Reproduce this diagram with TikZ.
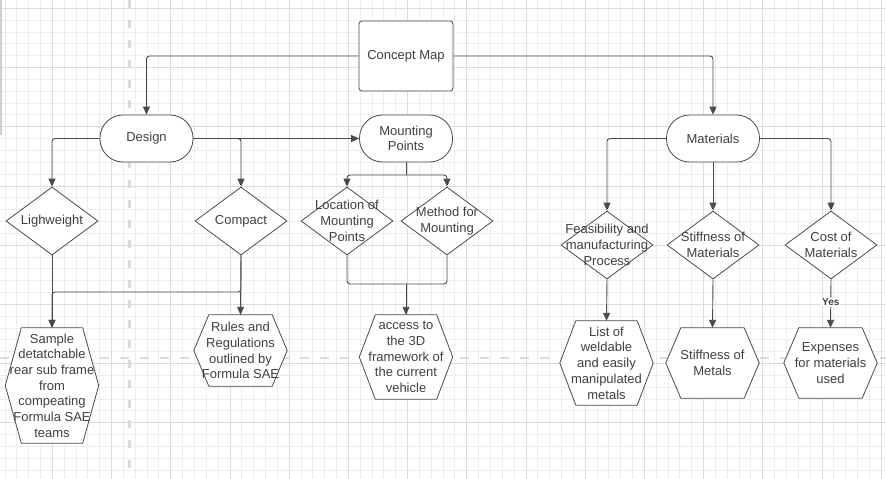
\documentclass[tikz,border=0pt]{standalone}
\usepackage{fontspec}
\setmainfont{Liberation Sans}
\usetikzlibrary{arrows.meta,shapes.geometric,calc}

\definecolor{ink}{HTML}{3B4048}
\definecolor{edge}{HTML}{464B53}
\definecolor{gridminor}{HTML}{EDEDED}
\definecolor{gridmajor}{HTML}{DCDCDC}
\definecolor{guide}{HTML}{DADADA}
\definecolor{sidebar}{HTML}{CDCED6}

\pgfdeclarelayer{bg}
\pgfdeclarelayer{mid}
\pgfsetlayers{bg,mid,main}

% hexagon outline around a fixed-size rectangular node (#1 = node, #2 = inset)
\newcommand\hexframe[2]{%
  \begin{pgfonlayer}{mid}
    \path[hexline] (#1.west) -- ([xshift=#2pt]#1.north west) -- ([xshift=-#2pt]#1.north east)
      -- (#1.east) -- ([xshift=-#2pt]#1.south east) -- ([xshift=#2pt]#1.south west) -- cycle;
  \end{pgfonlayer}}

\begin{document}
\begin{tikzpicture}[x=1pt,y=-1pt,
  every node/.style={font=\fontsize{13}{15.7}\selectfont, text=ink},
  box/.style={draw=edge, line width=0.8pt, fill=white, rounded corners=3pt,
    minimum width=94pt, minimum height=70pt, inner sep=0pt, align=center},
  pill/.style={draw=edge, line width=0.8pt, fill=white, rounded corners=23pt,
    minimum width=93pt, minimum height=47pt, inner sep=0pt, align=center},
  decision/.style={diamond, draw=edge, line width=0.8pt, fill=white,
    minimum width=92pt, minimum height=68pt, inner sep=0pt},
  dtext/.style={align=center, inner sep=0pt},
  hexa/.style={minimum width=93pt, inner sep=0pt, align=center},
  hexline/.style={draw=edge, line width=0.8pt, fill=white, line join=round},
  conn/.style={draw=edge, line width=0.9pt, rounded corners=3pt,
    -{Triangle[length=8pt,width=7pt]}},
  link/.style={draw=edge, line width=0.9pt, rounded corners=3pt},
  yes/.style={fill=white, inner sep=1pt, font=\fontsize{10}{12}\selectfont\bfseries},
]
\useasboundingbox (0,0) rectangle (886,479);

% canvas: grid paper and guide lines
\begin{pgfonlayer}{bg}
  \fill[white] (0,0) rectangle (886,479);
  \foreach \k in {-4,...,70} {
    \draw[gridminor, line width=0.8pt] ({52.3+11.84*\k},0) -- ({52.3+11.84*\k},479);
  }
  \foreach \k in {0,...,39} {
    \draw[gridminor, line width=0.8pt] (0,{8.3+11.84*\k}) -- (886,{8.3+11.84*\k});
  }
  \foreach \k in {0,5,...,70} {
    \draw[gridmajor, line width=0.8pt] ({52.3+11.84*\k},0) -- ({52.3+11.84*\k},479);
  }
  \foreach \k in {0,5,...,35} {
    \draw[gridmajor, line width=0.8pt] (0,{8.3+11.84*\k}) -- (886,{8.3+11.84*\k});
  }
  \draw[guide, line width=2.6pt, dash pattern=on 8pt off 12pt] (129.5,0) -- (129.5,479);
  \draw[guide, line width=2.6pt, dash pattern=on 9pt off 11pt] (0,358) -- (886,358);
  \fill[sidebar] (0,0) rectangle (2,135);
\end{pgfonlayer}

% top level
\node[box] (cm) at (406,56) {Concept Map};
\node[pill] (design) at (146.5,138.5) {Design};
\node[pill] (mp) at (406,138.5) {Mounting\\Points};
\node[pill] (mat) at (713,138.5) {Materials};

% decisions
\node[decision, label={[dtext]center:Lighweight}] (lw) at (52,221) {};
\node[decision, label={[dtext]center:Compact}] (compact) at (241,221) {};
\node[decision, label={[dtext]center:Location of\\Mounting\\Points}] (loc) at (347,221) {};
\node[decision, label={[dtext]center:Method for\\Mounting}] (meth) at (447,221) {};
\node[decision, label={[dtext]center:Feasibility and\\manufacturing\\Process}] (feas) at (607,245) {};
\node[decision, label={[dtext]center:Stiffness of\\Materials}] (stiffd) at (713,245) {};
\node[decision, label={[dtext]center:Cost of\\Materials}] (cost) at (831,245) {};

% outcomes
\node[hexa, minimum height=115pt] (sample) at (52,385.5)
  {Sample\\detatchable\\rear sub frame\\from\\compeating\\Formula SAE\\teams};
\hexframe{sample}{16}
\node[hexa, minimum height=71pt] (rules) at (240.5,350.5)
  {Rules and\\Regulations\\outlined by\\Formula SAE};
\hexframe{rules}{15}
\node[hexa, minimum height=84pt] (access) at (406,357)
  {access to\\the 3D\\framework of\\the current\\vehicle};
\hexframe{access}{16}
\node[hexa, minimum height=84pt] (list) at (606.5,363)
  {List of\\weldable\\and easily\\manipulated\\metals};
\hexframe{list}{16}
\node[hexa, minimum height=70pt] (smet) at (712.5,363) {Stiffness of\\Metals};
\hexframe{smet}{15}
\node[hexa, minimum height=70pt] (exp) at (830.5,363) {Expenses\\for materials\\used};
\hexframe{exp}{15}

% junction points
\coordinate (mpj) at (406,175);
\coordinate (cmpj) at (241,292);
\coordinate (accj) at (406,284);

% connectors
\draw[conn] (cm.west) -| (design.north);
\draw[conn] (cm.east) -| (mat.north);
\draw[conn] (design.east) -- (mp.west);
\draw[conn] (design.east) -| (compact.north);
\draw[conn] (design.west) -| (lw.north);
\draw[link] (mp.south) -- (mpj);
\draw[conn] (mpj) -| (loc.north);
\draw[conn] (mpj) -| (meth.north);
\draw[conn] (mat.west) -| (feas.north);
\draw[conn] (mat.south) -- (stiffd.north);
\draw[conn] (mat.east) -| (cost.north);

\draw[conn] (lw.south) -- (sample.north);
\draw[conn] (compact.south) -- (rules.north);
\draw[conn] (compact.south) -- (cmpj) -| (sample.north);
\draw[link] (loc.south) |- (accj);
\draw[link] (meth.south) |- (accj);
\draw[conn] (accj) -- (access.north);
\draw[conn] (feas.south) -- (list.north);
\draw[conn] (stiffd.south) -- (smet.north);
\draw[conn] (cost.south) -- node[yes, pos=0.47] (yeslbl) {Yes} (exp.north);
\end{tikzpicture}
\end{document}
